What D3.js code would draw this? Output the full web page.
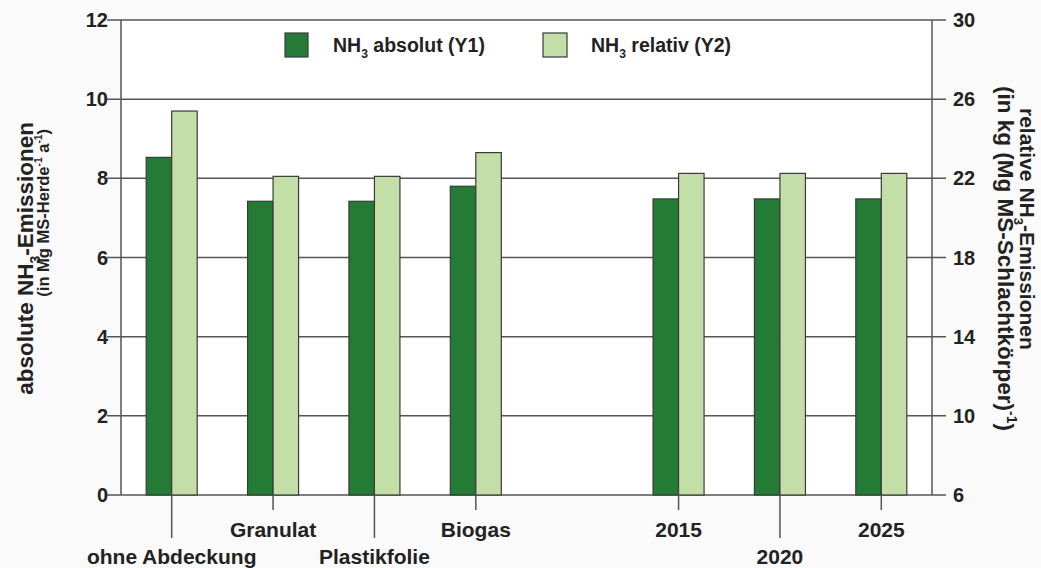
<!DOCTYPE html>
<html>
<head>
<meta charset="utf-8">
<script src="https://cdnjs.cloudflare.com/ajax/libs/d3/7.8.5/d3.min.js"></script>
<style>
    body { margin: 0; background: #fafafa; }
    svg { display: block; font-family: "Liberation Sans", Arial, sans-serif; font-weight: bold; }
</style>
</head>
<body>
<svg id="chart" width="1041" height="568"></svg>
<script>
// Daten
var categories = ["ohne Abdeckung", "Granulat", "Plastikfolie", "Biogas", "", "2015", "2020", "2025"];
var absolut = [8.53, 7.42, 7.42, 7.80, null, 7.48, 7.48, 7.48];      // Y1
var relativ = [25.4, 22.1, 22.1, 23.3, null, 22.25, 22.25, 22.25];   // Y2
var y1Ticks = [0, 2, 4, 6, 8, 10, 12];
var y2Ticks = [6, 10, 14, 18, 22, 26, 30];
var lowerRow = ["ohne Abdeckung", "Plastikfolie", "2020"];

var darkGreen = "#247b36";
var lightGreen = "#c4dea8";
var lineColor = "#555";

var svg = d3.select("#chart");
var plotLeft = 121, plotRight = 932, plotTop = 20, plotBottom = 495;

var x = d3.scaleBand().domain(categories).range([plotLeft, plotRight]);
var y1 = d3.scaleLinear().domain([0, 12]).range([plotBottom, plotTop]);
var y2 = d3.scaleLinear().domain([6, 30]).range([plotBottom, plotTop]);

// Plotfläche
svg.append("rect")
    .attr("x", plotLeft).attr("y", plotTop)
    .attr("width", plotRight - plotLeft).attr("height", plotBottom - plotTop)
    .attr("fill", "#fff");

// Gitterlinien + Ticks links/rechts
svg.selectAll(".grid").data(y1Ticks).enter().append("line")
    .attr("x1", plotLeft - 14).attr("x2", plotRight + 14)
    .attr("y1", function (d) { return y1(d); })
    .attr("y2", function (d) { return y1(d); })
    .attr("stroke", lineColor).attr("stroke-width", 1.5);

svg.append("line")
    .attr("x1", plotLeft).attr("x2", plotLeft).attr("y1", plotTop).attr("y2", plotBottom)
    .attr("stroke", lineColor).attr("stroke-width", 1.5);
svg.append("line")
    .attr("x1", plotRight).attr("x2", plotRight).attr("y1", plotTop).attr("y2", plotBottom)
    .attr("stroke", lineColor).attr("stroke-width", 1.5);

// Tick labels
svg.selectAll(".y1lab").data(y1Ticks).enter().append("text")
    .attr("x", plotLeft - 13).attr("y", function (d) { return y1(d) + 7; })
    .attr("text-anchor", "end")
    .style("font-size", "20px").attr("fill", "#222")
    .text(function (d) { return d; });

svg.selectAll(".y2lab").data(y2Ticks).enter().append("text")
    .attr("x", plotRight + 21).attr("y", function (d) { return y2(d) + 7; })
    .attr("text-anchor", "start")
    .style("font-size", "20px").attr("fill", "#222")
    .text(function (d) { return d; });

// Balken
var half = 25.5;
categories.forEach(function (c, i) {
    if (absolut[i] == null) { return; }
    var cx = x(c) + x.bandwidth() / 2;
    svg.append("rect")
        .attr("x", cx - half).attr("y", y1(absolut[i]))
        .attr("width", half).attr("height", y1(0) - y1(absolut[i]))
        .attr("fill", darkGreen).attr("stroke", "#3a3a3a").attr("stroke-width", 1.2);
    svg.append("rect")
        .attr("x", cx).attr("y", y2(relativ[i]))
        .attr("width", half).attr("height", y2(6) - y2(relativ[i]))
        .attr("fill", lightGreen).attr("stroke", "#3a3a3a").attr("stroke-width", 1.2);
});

// Kategorie-Ticks und Beschriftung
categories.forEach(function (c) {
    if (c === "") { return; }
    var cx = x(c) + x.bandwidth() / 2;
    var low = lowerRow.indexOf(c) >= 0;
    svg.append("line")
        .attr("x1", cx).attr("x2", cx)
        .attr("y1", plotBottom).attr("y2", low ? 538 : 510)
        .attr("stroke", lineColor).attr("stroke-width", 1.5);
    svg.append("text")
        .attr("x", cx).attr("y", low ? 564 : 537)
        .attr("text-anchor", "middle")
        .style("font-size", "21px").attr("fill", "#222")
        .text(c);
});

// Text mit tief-/hochgestellten Teilen
function richText(sel, parts, size) {
    sel.style("font-size", size + "px");
    parts.forEach(function (p) {
        var shift = p.sub ? 0.3 * size : (p.sup ? -0.4 * size : 0);
        var ts = sel.append("tspan").text(p.t);
        if (shift !== 0) {
            ts.attr("dy", shift).style("font-size", (0.62 * size) + "px");
        }
        if (p.back) {
            ts.attr("dy", p.back * size);
        }
    });
}

// Legende
svg.append("rect").attr("x", 285).attr("y", 33).attr("width", 23).attr("height", 24)
    .attr("fill", darkGreen).attr("stroke", "#3a3a3a").attr("stroke-width", 1.2);
svg.append("rect").attr("x", 543).attr("y", 33).attr("width", 24).attr("height", 24)
    .attr("fill", lightGreen).attr("stroke", "#3a3a3a").attr("stroke-width", 1.2);
richText(svg.append("text").attr("x", 333).attr("y", 52).attr("fill", "#222"),
    [{ t: "NH" }, { t: "3", sub: true }, { t: " absolut (Y1)", back: -0.3 }], 19.5);
richText(svg.append("text").attr("x", 591).attr("y", 52).attr("fill", "#222"),
    [{ t: "NH" }, { t: "3", sub: true }, { t: " relativ (Y2)", back: -0.3 }], 19.5);

// Achsentitel links
richText(svg.append("text").attr("transform", "translate(33,122) rotate(-90)")
    .attr("text-anchor", "end").attr("fill", "#222"),
    [{ t: "absolute NH" }, { t: "3", sub: true }, { t: "-Emissionen", back: -0.3 }], 22.5);
richText(svg.append("text").attr("transform", "translate(49,129) rotate(-90)")
    .attr("text-anchor", "end").attr("fill", "#222"),
    [{ t: "(in Mg MS-Herde" }, { t: "-1", sup: true }, { t: " a", back: 0.4 }, { t: "-1", sup: true }, { t: ")", back: 0.4 }], 16.5);

// Achsentitel rechts
richText(svg.append("text").attr("transform", "translate(1020,108) rotate(90)")
    .attr("text-anchor", "start").attr("fill", "#222"),
    [{ t: "relative NH" }, { t: "3", sub: true }, { t: "-Emissionen", back: -0.3 }], 21);
richText(svg.append("text").attr("transform", "translate(998,86) rotate(90)")
    .attr("text-anchor", "start").attr("fill", "#222"),
    [{ t: "(in kg (Mg MS-Schlachtkörper)" }, { t: "-1", sup: true }, { t: ")", back: 0.4 }], 22.5);
</script>
</body>
</html>
